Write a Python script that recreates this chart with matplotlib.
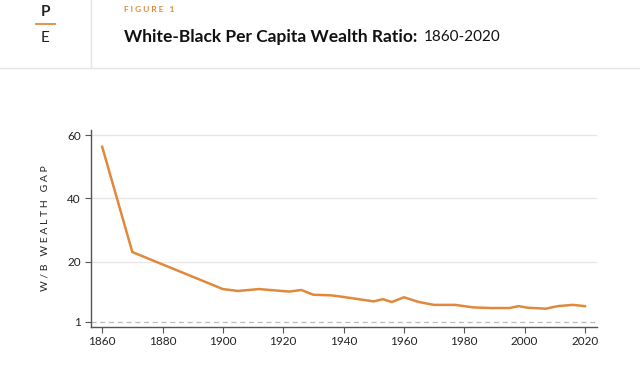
import matplotlib
matplotlib.use("Agg")
import matplotlib.pyplot as plt
from matplotlib.lines import Line2D

years = [1860, 1870, 1900, 1905, 1912, 1922, 1926, 1930, 1936, 1940, 1950, 1953, 1956,
         1960, 1965, 1970, 1977, 1983, 1989, 1995, 1998, 2001, 2007, 2011, 2016, 2020]
ratio = [56.3, 23.0, 11.3, 10.7, 11.3, 10.5, 11.0, 9.5, 9.3, 8.8, 7.4, 8.1, 7.2,
         8.7, 7.2, 6.3, 6.3, 5.5, 5.3, 5.3, 5.9, 5.4, 5.1, 5.9, 6.3, 5.9]
y_ticks = [1, 20, 40, 60]
x_ticks = [1860, 1880, 1900, 1920, 1940, 1960, 1980, 2000, 2020]

ORANGE = "#E0893C"
DARK = "#222222"
plt.rcParams['font.family'] = ['Lato', 'DejaVu Sans']

fig = plt.figure(figsize=(6.4, 3.72), dpi=100)

# header
fig.add_artist(Line2D([0, 1], [1 - 68/372]*2, color="#e4e4e4", lw=1, transform=fig.transFigure))
fig.add_artist(Line2D([91/640]*2, [1, 1 - 68/372], color="#e4e4e4", lw=1, transform=fig.transFigure))
fig.add_artist(Line2D([36/640, 55/640], [1 - 24/372]*2, color=ORANGE, lw=1.3, transform=fig.transFigure))
fig.text(45.5/640, 1 - 12/372, "P", ha="center", va="center", fontsize=11, fontweight="bold", color=DARK)
fig.text(45.5/640, 1 - 38/372, "E", ha="center", va="center", fontsize=11, color=DARK)
fig.text(124/640, 1 - 10/372, "F I G U R E   1", ha="left", va="center", fontsize=6,
         fontweight="bold", color=ORANGE)
fig.text(124/640, 1 - 37/372, "White-Black Per Capita Wealth Ratio:", ha="left", va="center",
         fontsize=12.5, fontweight="bold", color="#111111")
fig.text(424/640, 1 - 37/372, "1860-2020", ha="left", va="center", fontsize=11, color="#111111")

ax = fig.add_axes([90.7/640, 1 - 326.7/372, (597 - 90.7)/640, (326.7 - 130)/372])
ax.plot(years, ratio, color=ORANGE, lw=1.8, zorder=3)
ax.set_xlim(1856.2, 2024)
ax.set_ylim(-0.6, 61.6)
ax.set_yticks(y_ticks)
ax.set_xticks(x_ticks)
for v in [20, 40, 60]:
    ax.axhline(v, color="#e6e6e6", lw=0.9, zorder=1)
ax.axhline(1, color="#bbbbbb", lw=0.9, ls=(0, (4, 3)), zorder=1)
for s in ["top", "right"]:
    ax.spines[s].set_visible(False)
for s in ["left", "bottom"]:
    ax.spines[s].set_color("#555555")
    ax.spines[s].set_linewidth(1.0)
ax.tick_params(axis="both", length=4, width=0.8, color="#555555", labelsize=8.5,
               labelcolor=DARK, pad=3)
ax.set_ylabel("W / B   W E A L T H   G A P", fontsize=7.5, color=DARK, labelpad=13)

fig.savefig("out.png", dpi=100)
